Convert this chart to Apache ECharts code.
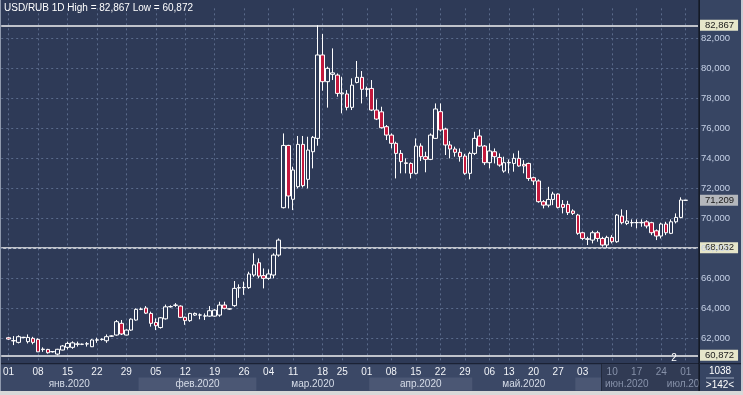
<!DOCTYPE html>
<html><head><meta charset="utf-8">
<script src="https://cdn.jsdelivr.net/npm/echarts@6/dist/echarts.min.js"></script>
<style>html,body{margin:0;padding:0;background:#d6d6d6;}#c{width:743px;height:395px;}</style>
</head><body><div id="c"></div>
<script>
// ---- data (USD/RUB daily candles, Jan–Jul 2020) ----
const opens = [
62.04,61.85,61.73,62.05,61.78,62.00,61.93,61.25,61.26,61.10,
60.95,61.22,61.40,61.40,61.60,61.60,61.62,61.44,61.88,61.92,
61.84,62.14,62.22,63.00,62.22,62.55,63.22,63.93,64.02,63.66,
63.06,62.72,63.30,64.10,64.20,64.15,63.40,63.18,63.55,63.55,
63.48,63.48,63.48,63.55,64.22,63.95,64.18,65.36,65.38,65.38,
66.22,67.04,66.18,66.00,66.22,67.55,70.71,74.86,71.27,72.11,
74.93,72.60,74.44,75.33,80.89,79.11,79.60,79.55,78.30,78.29,
77.40,79.06,79.40,78.60,78.66,77.22,77.10,76.11,75.55,75.00,
74.33,73.70,73.66,73.00,74.82,74.11,73.93,75.33,77.11,75.95,
74.89,74.62,74.40,74.15,73.00,74.33,75.49,74.82,73.71,74.44,
74.06,73.15,73.70,73.66,74.00,73.60,73.66,72.71,72.49,71.11,
70.88,71.26,71.62,70.93,70.93,70.49,70.22,69.04,68.60,68.55,
69.04,68.66,68.22,68.73,68.44,70.15,69.66,69.70,69.71,69.70,
69.77,69.71,69.17,68.82,69.62,69.00,69.77,70.06,71.20];
const closes = [
61.95,61.83,62.11,62.07,62.06,61.73,61.10,61.28,61.04,61.12,
61.27,61.49,61.66,61.70,61.63,61.61,61.64,61.89,61.90,61.94,
62.11,62.16,63.11,62.29,62.55,63.28,63.93,63.95,63.68,63.00,
62.84,63.37,64.10,64.12,64.22,63.40,63.18,63.66,63.66,63.56,
63.50,63.84,63.88,64.22,64.00,63.97,65.33,65.38,65.40,66.29,
66.90,66.15,66.00,66.29,67.55,68.55,74.86,71.49,73.22,74.93,
72.18,74.55,75.40,80.89,79.11,80.00,79.70,78.33,78.36,77.40,
78.88,79.40,78.60,78.64,77.22,76.62,76.04,75.55,75.00,74.33,
73.78,73.66,73.00,74.82,74.11,73.93,75.55,77.29,75.89,74.89,
74.62,74.40,74.11,73.00,74.33,75.33,74.82,73.71,74.49,74.11,
73.55,73.71,73.73,74.00,73.49,73.49,72.66,72.49,71.11,70.88,
71.26,71.62,70.73,70.73,70.38,70.33,69.00,68.66,68.64,69.04,
68.66,68.22,68.73,68.44,70.22,69.71,69.82,69.72,69.72,69.73,
69.49,69.04,68.82,69.62,69.04,69.77,70.06,71.22,71.209];
const lows = [
61.90,61.55,61.66,62.00,61.66,61.60,61.10,61.10,60.98,61.05,
60.872,61.20,61.26,61.30,61.45,61.55,61.45,61.42,61.70,61.85,
61.70,62.10,62.18,62.22,62.20,62.50,63.18,63.88,63.62,62.78,
62.55,62.65,63.25,64.05,64.10,63.35,62.90,63.10,63.50,63.27,
63.22,63.44,63.44,63.44,63.93,63.90,64.10,64.70,64.90,65.30,
66.10,66.00,65.33,65.90,66.00,67.44,70.66,70.66,70.55,72.00,
72.06,72.00,73.33,74.84,78.51,77.38,79.22,78.11,77.00,77.20,
77.22,79.00,77.66,78.10,77.15,76.55,75.99,75.22,74.66,72.66,
73.00,73.00,72.66,72.93,73.82,73.07,73.88,75.29,75.78,74.22,
74.00,74.11,73.78,72.90,72.60,74.22,74.77,73.55,73.33,73.66,
73.44,73.04,73.00,73.11,73.44,73.00,72.50,72.22,71.04,70.66,
70.73,70.88,70.66,70.33,70.22,70.22,68.90,68.55,68.22,68.33,
68.44,68.11,68.032,68.33,68.37,69.60,69.55,69.44,69.33,69.44,
69.33,68.88,68.55,68.66,68.88,68.95,69.66,70.00,71.19];
const highs = [
62.10,62.15,62.20,62.10,62.26,62.10,62.00,61.40,61.30,61.15,
61.30,61.55,61.78,61.80,61.78,61.65,61.75,61.95,62.04,62.00,
62.26,62.20,63.22,63.22,62.60,63.33,64.00,64.05,64.15,63.78,
63.33,63.42,64.25,64.20,64.35,64.20,63.45,63.70,63.72,63.66,
63.66,64.15,63.95,64.44,64.44,64.00,65.82,65.60,65.78,66.44,
67.67,67.33,66.66,66.60,67.67,68.66,75.66,74.90,73.44,75.49,
75.49,75.44,75.49,82.867,82.29,80.11,81.33,79.66,79.44,78.55,
79.33,80.49,79.82,78.78,79.22,77.93,77.44,76.22,75.66,75.11,
74.55,74.00,73.73,75.33,75.00,74.44,75.66,77.66,77.66,76.04,
75.15,74.78,74.66,74.30,74.44,75.77,75.93,74.88,75.00,74.66,
74.33,74.11,73.93,74.33,74.51,73.88,73.71,72.78,72.60,71.22,
72.10,71.77,71.66,71.22,71.17,70.60,70.30,69.11,68.77,69.17,
69.17,68.77,68.84,68.88,70.29,70.60,70.55,69.93,69.93,69.93,
69.88,69.77,69.26,69.71,69.77,69.93,70.33,71.40,71.22];

// week tick labels: candle index -> text
const weekTickIdx  = [0,6,12,18,24,30,36,42,48,53,58,64,68,73,78,83,88,93,98,102,107,112,117,123,128,133,138];
const weekTickText = ['01','08','15','22','29','05','12','19','26','04','11','18','25','01','08','15','22','29','06','13','20','27','03','10','17','24','01'];
// month bands: first candle index of each month
const monthStartIdx = [0,27,51,74,95,116,137];
const monthNames = ['янв.2020','фев.2020','мар.2020','апр.2020','май.2020','июн.2020','июл.2020'];
// horizontal price levels and last price
const levelLines = [82.867, 68.032, 60.872];
const lastPrice = 71.209;
const dimFromIdx = 121;
const instrument = 'USD/RUB 1D';

// ---- chart ----
const FONT = 'Liberation Sans';
const fmt = v => Number(v).toFixed(3).replace('.', ',');
const N = opens.length, PAD_L = 1, PAD_R = 2;
const cats = [];
for (let i = 0; i < N + PAD_L + PAD_R; i++) cats.push(String(i - PAD_L));
const candleData = opens.map((o, i) => [i + PAD_L, o, closes[i], lows[i], highs[i]]);
const tickSet = new Set(weekTickIdx);
const hi = Math.max(...highs), lo = Math.min(...lows);

const W = 698, GT = 8.333, GH = 360;
const gridCol = '#5a6a8b';
const tagLabel = (v, bg) => ({
  show: true, position: 'end', distance: 2, formatter: () => fmt(v),
  color: '#1a1a1a', fontSize: 9.5, fontFamily: FONT, padding: [1, 4, 0, 5], backgroundColor: bg
});

const chart = echarts.init(document.getElementById('c'), null, {renderer: 'canvas'});
chart.setOption({
  backgroundColor: '#2e3a57',
  animation: false,
  textStyle: {fontFamily: FONT},
  grid: {left: 0, top: GT, width: W, height: GH, containLabel: false},
  xAxis: [{
    type: 'category', data: cats, boundaryGap: true, z: 0,
    axisLine: {show: false}, axisTick: {show: false}, axisLabel: {show: false},
    splitLine: {show: true, alignWithLabel: true, interval: (i) => tickSet.has(i - PAD_L),
      lineStyle: {color: gridCol, type: [2, 3], width: 1}}
  }, {
    type: 'category', data: cats, boundaryGap: true, position: 'bottom', z: 7, offset: -3,
    axisLine: {show: false}, axisTick: {show: false}, splitLine: {show: false},
    axisLabel: {show: true, margin: 2, fontSize: 10, fontFamily: FONT,
      interval: (i) => tickSet.has(i - PAD_L),
      formatter: (v) => weekTickText[weekTickIdx.indexOf(+v)] || '',
      color: (v) => (+v >= dimFromIdx ? '#8792aa' : '#f2f4f8')}
  }],
  yAxis: {
    type: 'value', position: 'right', min: 60, max: 84, interval: 2, z: 7,
    axisLine: {show: false}, axisTick: {show: false},
    splitLine: {show: true, showMinLine: false, showMaxLine: false, lineStyle: {color: gridCol, type: [2, 3], width: 1}},
    axisLabel: {showMinLabel: false, showMaxLabel: false, color: '#c6d1e6', fontSize: 9.5, fontFamily: FONT, margin: 3, formatter: fmt}
  },
  series: [{
    type: 'candlestick', data: candleData, encode: {x: 0, y: [1, 2, 3, 4]},
    barWidth: 4, z: 8,
    itemStyle: {color: '#2e3a57', color0: '#c3183d', borderColor: '#ffffff', borderColor0: '#ffffff', borderWidth: 1},
    markLine: {
      symbol: ['none', 'none'], silent: true, animation: false, precision: 3,
      data: levelLines.map(v => ({yAxis: v, lineStyle: {color: '#f2f2f2', width: 1.5, type: 'solid'}, label: tagLabel(v, '#e6e6ca')}))
        .concat([{yAxis: lastPrice, lineStyle: {color: 'rgba(0,0,0,0)', width: 1, type: 'solid'}, label: tagLabel(lastPrice, '#b4b7bc')}])
    }
  }]
});

// ---- panels & texts (positions from the axis scale) ----
const bw = W / cats.length;
const cx = i => chart.convertToPixel({xAxisIndex: 0}, i + PAD_L);
const edges = monthStartIdx.map((s, m) => (m === 0 ? 0 : cx(s) - bw / 2));
edges.push(699);
const g = [];
g.push({type: 'rect', silent: true, z: 1, shape: {x: 0, y: 364, width: 699, height: 27}, style: {fill: '#3b4866'}});
g.push({type: 'rect', silent: true, z: 1, shape: {x: 0, y: 363, width: 699, height: 1.2}, style: {fill: '#1b2235'}});
monthNames.forEach((name, m) => {
  if (m % 2 === 1) {
    g.push({type: 'rect', silent: true, z: 2, shape: {x: edges[m], y: 377.5, width: edges[m + 1] - edges[m], height: 13}, style: {fill: '#4b5774'}});
  }
});
g.push({type: 'rect', silent: true, z: 3, shape: {x: 602, y: 364, width: 97, height: 27}, style: {fill: '#313b54'}});
g.push({type: 'rect', silent: true, z: 3, shape: {x: 601, y: 364, width: 1, height: 27}, style: {fill: '#222a3d'}});
monthNames.forEach((name, m) => {
  g.push({type: 'text', silent: true, z: 4, x: (edges[m] + edges[m + 1]) / 2, y: 384,
    style: {text: name, fill: monthStartIdx[m] >= 116 ? '#8792aa' : '#d6dce8', font: '10px ' + FONT, align: 'center', verticalAlign: 'middle'}});
});
g.push({type: 'rect', silent: true, z: 5, shape: {x: 699, y: 0, width: 44, height: 391}, style: {fill: '#374563'}});
g.push({type: 'rect', silent: true, z: 6, shape: {x: 698.5, y: 0, width: 1.3, height: 391}, style: {fill: '#0c1019'}});
g.push({type: 'rect', silent: true, z: 6, shape: {x: 699, y: 363, width: 42, height: 1.2}, style: {fill: '#1b2235'}});
g.push({type: 'text', silent: true, z: 9, x: 720, y: 371, style: {text: '1038', fill: '#ffffff', font: '10px ' + FONT, align: 'center', verticalAlign: 'middle'}});
g.push({type: 'rect', silent: true, z: 9, shape: {x: 706, y: 377.5, width: 28, height: 1}, style: {fill: '#9aa6bd'}});
g.push({type: 'text', silent: true, z: 9, x: 720, y: 385, style: {text: '>142<', fill: '#ffffff', font: '10px ' + FONT, align: 'center', verticalAlign: 'middle'}});
g.push({type: 'text', silent: true, z: 9, x: 674, y: 358.5, style: {text: '2', fill: '#ffffff', font: '10px ' + FONT, align: 'center', verticalAlign: 'middle'}});
g.push({type: 'text', silent: true, z: 9, x: 4, y: 8, style: {text: instrument + ' High = ' + fmt(hi) + ' Low = ' + fmt(lo), fill: '#ffffff', font: '10px ' + FONT, align: 'left', verticalAlign: 'middle'}});
g.push({type: 'rect', silent: true, z: 10, shape: {x: 0, y: 0, width: 1, height: 391}, style: {fill: '#8f99ad'}});
g.push({type: 'rect', silent: true, z: 10, shape: {x: 741, y: 0, width: 2, height: 395}, style: {fill: '#c9cdd6'}});
g.push({type: 'rect', silent: true, z: 10, shape: {x: 0, y: 391, width: 743, height: 4}, style: {fill: '#d8d8d8'}});
chart.setOption({graphic: g});
</script>
</body></html>
